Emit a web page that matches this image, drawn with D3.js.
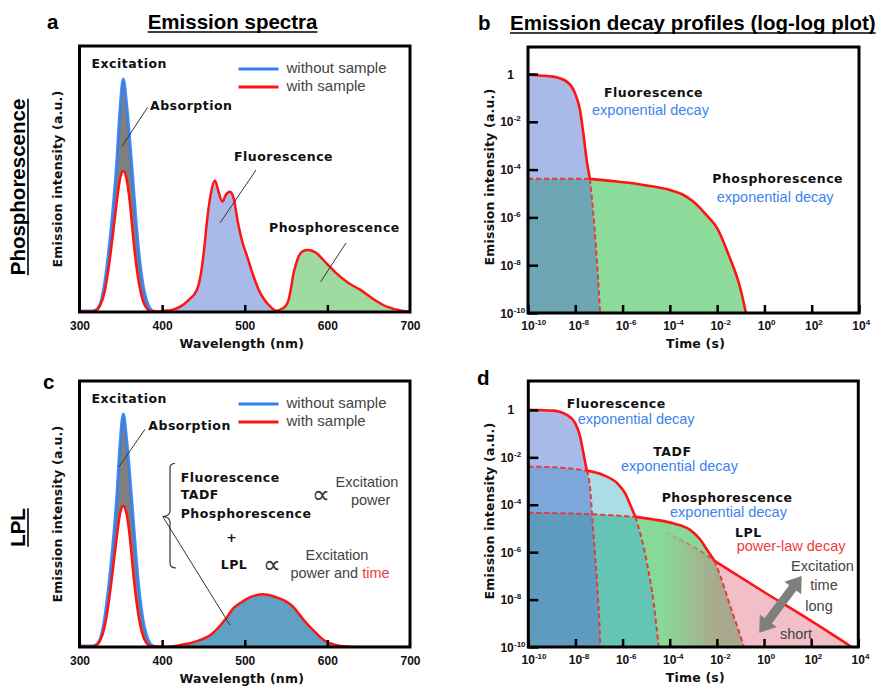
<!DOCTYPE html>
<html>
<head>
<meta charset="utf-8">
<script src="https://cdn.jsdelivr.net/npm/d3@7"></script>
<style>
body { margin: 0; background: #fff; }
.bl { font-family: "DejaVu Sans", Verdana, sans-serif; font-weight: bold; font-size: 12.5px; letter-spacing: 0.5px; fill: #111; }
.axt { font-family: "DejaVu Sans", Verdana, sans-serif; font-weight: bold; font-size: 12.5px; letter-spacing: 0.2px; fill: #111; }
.reg { font-family: "Liberation Sans", Arial, sans-serif; font-size: 14.5px; fill: #444; }
.leg { font-family: "Liberation Sans", Arial, sans-serif; font-size: 15px; fill: #444; }
.blue { fill: #3c83f0; }
.redt { fill: #f23c3c; }
.tk { font-family: "Liberation Sans", Arial, sans-serif; font-weight: bold; font-size: 12px; fill: #111; }
.sup { font-family: "Liberation Sans", Arial, sans-serif; font-weight: bold; font-size: 8px; fill: #111; }
.ttl { font-family: "Liberation Sans", Arial, sans-serif; font-weight: bold; font-size: 20.5px; fill: #000; }
.prop { font-family: "DejaVu Sans", sans-serif; font-size: 25px; fill: #333; }
</style>
</head>
<body>
<svg id="fig" width="881" height="687"></svg>
<script>
// ---- spectra (a, c): wavelength in nm, intensity as fraction of frame height ----
var wlTicks = [300, 400, 500, 600, 700];
var excWl      = [300, 315, 320, 325, 330, 335, 340, 345, 349, 353, 357, 361, 365, 369, 373, 377, 381, 385, 389, 395];
var excWithout = [0.004, 0.004, 0.008, 0.03, 0.1, 0.22, 0.37, 0.56, 0.76, 0.876, 0.78, 0.64, 0.48, 0.32, 0.19, 0.1, 0.045, 0.015, 0.004, 0.001];
var excWith    = [0.002, 0.002, 0.006, 0.025, 0.07, 0.16, 0.28, 0.41, 0.5, 0.53, 0.5, 0.41, 0.28, 0.17, 0.09, 0.04, 0.015, 0.005, 0.002, 0.002];

var fluorWl  = [400, 412, 422, 432, 442, 447, 451, 454, 459, 464, 468, 473, 477, 482, 486, 492, 497, 503, 510, 517, 524, 531, 538];
var fluorInt = [0.004, 0.008, 0.02, 0.045, 0.083, 0.145, 0.24, 0.333, 0.446, 0.494, 0.455, 0.415, 0.44, 0.452, 0.434, 0.333, 0.265, 0.208, 0.14, 0.083, 0.045, 0.02, 0.005];

var phosWl  = [538, 545, 550, 553, 556, 559, 562, 565, 570, 576, 585, 599, 611, 625, 640, 655, 672, 690, 700];
var phosInt = [0.005, 0.012, 0.025, 0.045, 0.09, 0.145, 0.18, 0.208, 0.228, 0.233, 0.225, 0.183, 0.145, 0.11, 0.083, 0.05, 0.02, 0.005, 0.002];

var lplWl  = [400, 414, 430, 445, 458, 470, 478, 486, 495, 503, 512, 523, 535, 547, 553, 559, 568, 576, 583, 591, 599, 610, 623, 640, 700];
var lplInt = [0.001, 0.003, 0.012, 0.025, 0.044, 0.08, 0.11, 0.145, 0.166, 0.182, 0.193, 0.198, 0.19, 0.176, 0.165, 0.15, 0.115, 0.085, 0.063, 0.038, 0.019, 0.008, 0.002, 0.0, 0.0];

// ---- decay profiles (b, d): [log10 time (s), log10 intensity] ----
var timeTicks = [-10, -8, -6, -4, -2, 0, 2, 4];
var intTicks  = [-10, -8, -6, -4, -2, 0];

var bFluorSolid = [[-10, -0.02], [-9.5, -0.06], [-8.93, -0.11], [-8.36, -0.32], [-8.01, -0.81], [-7.8, -1.51], [-7.66, -2.48], [-7.52, -3.6], [-7.38, -4.39]];
var bFluorTail  = [[-7.38, -4.39], [-7.25, -5.7], [-7.12, -7.3], [-6.95, -10]];
var bPhosHead   = [[-10, -4.38], [-8.5, -4.38], [-7.38, -4.39]];
var bPhosSolid  = [[-7.38, -4.39], [-6.5, -4.47], [-5.5, -4.58], [-4.7, -4.71], [-4.0, -4.85], [-3.5, -5.02], [-3.0, -5.35], [-2.5, -5.85], [-2.0, -6.45], [-1.5, -7.6], [-1.05, -8.85], [-0.78, -10]];

var dFluorSolid = [[-10, 0.0], [-9.5, -0.01], [-8.94, -0.03], [-8.37, -0.21], [-8.01, -0.56], [-7.8, -1.13], [-7.66, -1.83], [-7.52, -2.56]];
var dFluorTail  = [[-7.52, -2.56], [-7.37, -3.38], [-7.3, -4.36], [-7.16, -6.2], [-7.02, -8.31], [-6.94, -10]];
var dTadfHead   = [[-10, -2.39], [-8.94, -2.42], [-7.94, -2.5], [-7.52, -2.56]];
var dTadfSolid  = [[-7.52, -2.56], [-6.81, -2.75], [-6.24, -3.08], [-5.89, -3.52], [-5.67, -4.01], [-5.46, -4.51]];
var dTadfTail   = [[-5.46, -4.51], [-5.25, -5.21], [-4.96, -6.48], [-4.68, -8.16], [-4.47, -10]];
var dPhosHead   = [[-10, -4.34], [-7.52, -4.39], [-5.46, -4.51]];
var dPhosSolid  = [[-5.46, -4.51], [-4.68, -4.62], [-3.83, -4.79], [-3.12, -5.07], [-2.69, -5.49], [-2.41, -5.91], [-2.1, -6.37]];
var dPhosTail   = [[-2.1, -6.37], [-1.84, -7.04], [-1.42, -8.31], [-1.13, -9.15], [-0.85, -10]];
var dLplHead    = [[-4.5, -5.0], [-3.5, -5.5], [-2.7, -5.95], [-2.1, -6.37]];
var dLplSolid   = [[-2.1, -6.37], [0, -7.68], [2, -8.9], [3.72, -10]];

var RED = "#ff1414", DASH = "#e8383d", LINEBLUE = "#2f7ff2";
var svg = d3.select("#fig");
var defs = svg.append("defs");

function join(a, b) { return a.concat(b.slice(1)); }

function txt(g, x, y, s, cls, anchor) {
  return g.append("text").attr("x", x).attr("y", y).attr("class", cls)
    .attr("text-anchor", anchor || "start").text(s);
}

function underlined(x, y, s, cls, rot) {
  var g = svg.append("g").attr("transform", "translate(" + x + "," + y + ")" + (rot ? " rotate(-90)" : ""));
  var t = g.append("text").attr("class", cls).attr("text-anchor", rot ? "middle" : "start").text(s);
  var len = t.node().getComputedTextLength();
  var x0 = rot ? -len / 2 : 0;
  g.append("line").attr("x1", x0).attr("x2", x0 + len).attr("y1", 3).attr("y2", 3)
    .attr("stroke", "#000").attr("stroke-width", 1.6);
}

function frame(g, box) {
  g.append("rect").attr("x", box.x0).attr("y", box.y0).attr("width", box.x1 - box.x0)
    .attr("height", box.y1 - box.y0).attr("fill", "none").attr("stroke", "#000").attr("stroke-width", 3);
}

// ---------------- spectrum panels ----------------
function spectrumPanel(id, box, emissions) {
  var g = svg.append("g");
  var x = d3.scaleLinear().domain([300, 700]).range([box.x0, box.x1]);
  var y = d3.scaleLinear().domain([0, 1]).range([box.y1, box.y0]);
  defs.append("clipPath").attr("id", id + "box").append("rect")
    .attr("x", box.x0).attr("y", box.y0).attr("width", box.x1 - box.x0).attr("height", box.y1 - box.y0);
  var plot = g.append("g").attr("clip-path", "url(#" + id + "box)");
  var line = d3.line().x(d => x(d[0])).y(d => y(d[1])).curve(d3.curveMonotoneX);
  var area = d3.area().x(d => x(d[0])).y0(y(0)).y1(d => y(d[1])).curve(d3.curveMonotoneX);

  emissions.forEach(function (e) {
    plot.append("path").attr("d", area(d3.zip(e.wl, e.val))).attr("fill", e.fill);
  });
  var absArea = d3.area().x(d => x(d[0])).y0(d => y(d[1])).y1(d => y(d[2])).curve(d3.curveMonotoneX);
  plot.append("path").attr("d", absArea(d3.zip(excWl, excWith, excWithout))).attr("fill", "#7f7f7f");

  plot.append("path").attr("d", line(d3.zip(excWl, excWithout))).attr("fill", "none")
    .attr("stroke", LINEBLUE).attr("stroke-width", 3).attr("stroke-opacity", 0.9);
  var red = d3.zip(excWl, excWith);
  emissions.forEach(function (e) {
    d3.zip(e.wl, e.val).forEach(function (p) { if (p[0] > red[red.length - 1][0]) red.push(p); });
  });
  plot.append("path").attr("d", line(red)).attr("fill", "none").attr("stroke", RED).attr("stroke-width", 2.5);

  var ax = g.append("g").attr("transform", "translate(0," + box.y1 + ")")
    .call(d3.axisBottom(x).tickValues(wlTicks).tickSize(-7).tickPadding(9));
  ax.select(".domain").remove();
  ax.selectAll(".tick line").attr("stroke", "#000").attr("stroke-width", 2.5)
    .attr("display", d => (d === 300 || d === 700) ? "none" : null);
  ax.selectAll(".tick text").attr("class", "tk").attr("font-family", null).attr("font-size", null);
  frame(g, box);

  txt(g, (box.x0 + box.x1) / 2 - 3, box.y1 + 36, "Wavelength (nm)", "axt", "middle");
  g.append("text").attr("class", "axt").attr("text-anchor", "middle")
    .attr("transform", "translate(62," + (box.y0 + box.y1) / 2 + ") rotate(-90)")
    .text("Emission intensity (a.u.)");

  // legend
  var ly = box.y0 + 23;
  [["without sample", LINEBLUE], ["with sample", RED]].forEach(function (it, i) {
    g.append("line").attr("x1", box.x0 + 159).attr("x2", box.x0 + 199)
      .attr("y1", ly + i * 18).attr("y2", ly + i * 18).attr("stroke", it[1]).attr("stroke-width", 3);
    txt(g, box.x0 + 207, ly + i * 18 + 4, it[0], "leg");
  });
  txt(g, box.x0 + 12, box.y0 + 22, "Excitation", "bl");
  return {g: g, x: x, y: y};
}

var pa = spectrumPanel("a", {x0: 79.5, x1: 410, y0: 46, y1: 312}, [
  {wl: fluorWl, val: fluorInt, fill: "#a9b9e8"},
  {wl: phosWl, val: phosInt, fill: "#9fdaa0"}
]);
var ga = pa.g;
txt(ga, 150, 109.5, "Absorption", "bl");
txt(ga, 234, 161, "Fluorescence", "bl");
txt(ga, 269, 232, "Phosphorescence", "bl");
[[147.7, 107.3, 121.7, 146.7], [256, 170, 220, 223], [346, 243, 320.7, 281.7]].forEach(function (l) {
  ga.append("line").attr("x1", l[0]).attr("y1", l[1]).attr("x2", l[2]).attr("y2", l[3])
    .attr("stroke", "#333").attr("stroke-width", 1);
});

var pc = spectrumPanel("c", {x0: 79.5, x1: 410, y0: 381, y1: 647}, [
  {wl: lplWl, val: lplInt, fill: "#5fa0c3"}
]);
var gc = pc.g;
txt(gc, 148.3, 429.5, "Absorption", "bl");
gc.append("line").attr("x1", 145).attr("y1", 429.3).attr("x2", 119).attr("y2", 466.7)
  .attr("stroke", "#333").attr("stroke-width", 1);
gc.append("path").attr("d", "M175,463.5 Q170,463.5 170,468 L170,511 Q170,516 162.5,516.5 Q170,517 170,522 L170,563 Q170,568 176,568")
  .attr("fill", "none").attr("stroke", "#333").attr("stroke-width", 1.2);
gc.append("line").attr("x1", 163).attr("y1", 517).attr("x2", 230).attr("y2", 625)
  .attr("stroke", "#333").attr("stroke-width", 1);
txt(gc, 180.7, 481.7, "Fluorescence", "bl");
txt(gc, 180.7, 499.3, "TADF", "bl");
txt(gc, 180.7, 518.3, "Phosphorescence", "bl");
txt(gc, 231.7, 541.5, "+", "bl", "middle");
txt(gc, 220.7, 569.3, "LPL", "bl");
txt(gc, 312, 502.5, "\u221D", "prop");
txt(gc, 263, 573, "\u221D", "prop");
txt(gc, 367, 486.7, "Excitation", "reg", "middle");
txt(gc, 370.7, 505, "power", "reg", "middle");
txt(gc, 337, 560, "Excitation", "reg", "middle");
var pt = txt(gc, 340, 578.3, "power and ", "reg", "middle");
pt.append("tspan").attr("class", "redt").text("time");

// ---------------- decay panels ----------------
function decayPanel(id, box, yTopExp) {
  var g = svg.append("g");
  var x = d3.scaleLog().domain([1e-10, 1e4]).range([box.x0, box.x1]);
  var y = d3.scaleLog().domain([1e-10, Math.pow(10, yTopExp)]).range([box.y1, box.y0]);
  var px = d => x(Math.pow(10, d[0])), py = d => y(Math.pow(10, d[1]));
  defs.append("clipPath").attr("id", id + "box").append("rect")
    .attr("x", box.x0).attr("y", box.y0).attr("width", box.x1 - box.x0).attr("height", box.y1 - box.y0);
  var plot = g.append("g").attr("clip-path", "url(#" + id + "box)");
  var P = {
    g: g, plot: plot, x: x, y: y, box: box, px: px, py: py,
    line: d3.line().x(px).y(py).curve(d3.curveMonotoneX),
    area: d3.area().x(px).y0(box.y1).y1(py).curve(d3.curveMonotoneX)
  };
  P.fill = function (pts, color, clip) {
    var p = plot.append("path").attr("d", P.area(pts)).attr("fill", color);
    if (clip) p.attr("clip-path", "url(#" + clip + ")");
    return p;
  };
  P.clip = function (cid, pts) {
    defs.append("clipPath").attr("id", cid).append("path").attr("d", P.area(pts));
  };
  P.solid = function (pts) {
    plot.append("path").attr("d", P.line(pts)).attr("fill", "none").attr("stroke", RED).attr("stroke-width", 2.6);
  };
  P.dashed = function (pts, stroke) {
    plot.append("path").attr("d", P.line(pts)).attr("fill", "none").attr("stroke", stroke || DASH)
      .attr("stroke-width", 2).attr("stroke-dasharray", "5,3");
  };
  P.axes = function () {
    var tv = timeTicks.map(e => Math.pow(10, e)), iv = intTicks.map(e => Math.pow(10, e));
    var ax = g.append("g").attr("transform", "translate(0," + box.y1 + ")")
      .call(d3.axisBottom(x).tickValues(tv).tickSize(-8).tickFormat(""));
    var ay = g.append("g").attr("transform", "translate(" + box.x0 + ",0)")
      .call(d3.axisLeft(y).tickValues(iv).tickSize(-10).tickFormat(""));
    [ax, ay].forEach(function (a) {
      a.select(".domain").remove();
      a.selectAll(".tick line").attr("stroke", "#000").attr("stroke-width", 2.5);
    });
    timeTicks.forEach(function (e) {
      var t = g.append("text").attr("class", "tk").attr("x", x(Math.pow(10, e)) - 6.7).attr("y", box.y1 + 17).text("10");
      t.append("tspan").attr("class", "sup").attr("dy", -5).text(e < 0 ? "-" + Math.abs(e) : String(e));
    });
    intTicks.forEach(function (e) {
      var yy = y(Math.pow(10, e)) + 4.5;
      if (e === 0) { txt(g, box.x0 - 14, yy, "1", "tk", "end"); return; }
      txt(g, box.x0 - 14.5, yy, "10", "tk", "end");
      txt(g, box.x0 - 14.3, yy - 5, "-" + Math.abs(e), "sup");
    });
    frame(g, box);
    txt(g, (box.x0 + box.x1) / 2 + 2, box.y1 + 35, "Time (s)", "axt", "middle");
    g.append("text").attr("class", "axt").attr("text-anchor", "middle")
      .attr("transform", "translate(494," + ((box.y0 + box.y1) / 2 - 3) + ") rotate(-90)")
      .text("Emission intensity (a.u.)");
  };
  return P;
}

// panel b
var pb = decayPanel("b", {x0: 528, x1: 859, y0: 47, y1: 313}, 1.13);
var bF = join(bFluorSolid, bFluorTail), bP = join(bPhosHead, bPhosSolid);
pb.clip("bclipP", bP);
pb.fill(bF, "#a9b9e8");
pb.fill(bP, "#8cdb9b");
pb.fill(bF, "#6fa6b4", "bclipP");
pb.dashed(bPhosHead);
pb.dashed(bFluorTail);
pb.solid(bFluorSolid);
pb.solid(bPhosSolid);
pb.axes();
txt(pb.g, 604, 97, "Fluorescence", "bl");
txt(pb.g, 592, 115, "exponential decay", "reg blue");
txt(pb.g, 712.3, 182.5, "Phosphorescence", "bl");
txt(pb.g, 716.7, 202, "exponential decay", "reg blue");

// panel d
var pd = decayPanel("d", {x0: 528.3, x1: 858.3, y0: 381, y1: 647}, 1.22);
var dF = join(dFluorSolid, dFluorTail);
var dT = join(join(dTadfHead, dTadfSolid), dTadfTail);
var dP = join(join(dPhosHead, dPhosSolid), dPhosTail);
var dL = join(dLplHead, dLplSolid);
pd.clip("dclipP", dP);
pd.clip("dclipT", dT);
var fade = defs.append("linearGradient").attr("id", "lplFade").attr("gradientUnits", "userSpaceOnUse")
  .attr("x1", pd.x(Math.pow(10, -4.3))).attr("x2", pd.x(Math.pow(10, -2.0))).attr("y1", 0).attr("y2", 0);
fade.append("stop").attr("offset", 0).attr("stop-color", "#aaa88c").attr("stop-opacity", 0);
fade.append("stop").attr("offset", 1).attr("stop-color", "#aaa88c").attr("stop-opacity", 1);
var dashFade = defs.append("linearGradient").attr("id", "lplDash").attr("gradientUnits", "userSpaceOnUse")
  .attr("x1", pd.x(Math.pow(10, -4.6))).attr("x2", pd.x(Math.pow(10, -2.1))).attr("y1", 0).attr("y2", 0);
dashFade.append("stop").attr("offset", 0).attr("stop-color", DASH).attr("stop-opacity", 0);
dashFade.append("stop").attr("offset", 1).attr("stop-color", DASH).attr("stop-opacity", 0.75);

pd.fill(dL, "#f2bfc8");
pd.fill(dP, "#88d999");
pd.fill(dL, "url(#lplFade)", "dclipP");
pd.fill(dT, "#aadde7");
pd.fill(dT, "#65c5b4", "dclipP");
pd.fill(dF, "#a9b9e8");
pd.fill(dF, "#7da6da", "dclipT");
pd.fill(dF, "#5e9bbe", "dclipP");
pd.dashed(dLplHead, "url(#lplDash)");
pd.dashed(dTadfHead);
pd.dashed(dPhosHead);
pd.dashed(dFluorTail);
pd.dashed(dTadfTail);
pd.dashed(dPhosTail);
pd.solid(dFluorSolid);
pd.solid(dTadfSolid);
pd.solid(dPhosSolid);
pd.solid(dLplSolid);

// double arrow for excitation time
(function () {
  var p1 = [pd.x(Math.pow(10, -0.2)), pd.y(Math.pow(10, -9.4))];
  var p2 = [pd.x(Math.pow(10, 1.6)), pd.y(Math.pow(10, -7.0))];
  var dx = p2[0] - p1[0], dy = p2[1] - p1[1], L = Math.hypot(dx, dy);
  var ang = Math.atan2(dy, dx) * 180 / Math.PI;
  var hw = 4.5, hl = 15, hh = 10.5;
  var pts = [[0, 0], [hl, -hh], [hl, -hw], [L - hl, -hw], [L - hl, -hh], [L, 0], [L - hl, hh], [L - hl, hw], [hl, hw], [hl, hh]];
  pd.g.append("polygon").attr("points", pts.map(p => p.join(",")).join(" "))
    .attr("transform", "translate(" + p1[0] + "," + p1[1] + ") rotate(" + ang + ")").attr("fill", "#7f7f7f");
})();
pd.axes();
var gd = pd.g;
txt(gd, 566.7, 408, "Fluorescence", "bl");
txt(gd, 577.7, 423.5, "exponential decay", "reg blue");
txt(gd, 653.3, 455.5, "TADF", "bl");
txt(gd, 621, 471, "exponential decay", "reg blue");
txt(gd, 661.7, 502, "Phosphorescence", "bl");
txt(gd, 670, 516.5, "exponential decay", "reg blue");
txt(gd, 735, 536.5, "LPL", "bl");
txt(gd, 736.7, 551, "power-law decay", "reg redt");
txt(gd, 822.5, 571, "Excitation", "reg", "middle");
txt(gd, 824, 590, "time", "reg", "middle");
txt(gd, 819, 611, "long", "reg", "middle");
txt(gd, 796, 639, "short", "reg", "middle");

// titles and row labels
txt(svg, 47, 29, "a", "ttl");
underlined(147.7, 29, "Emission spectra", "ttl");
txt(svg, 478, 30, "b", "ttl");
underlined(510, 30, "Emission decay profiles (log-log plot)", "ttl");
txt(svg, 43, 389, "c", "ttl");
txt(svg, 477, 385, "d", "ttl");
underlined(25, 187, "Phosphorescence", "ttl", true);
underlined(25, 527.5, "LPL", "ttl", true);
</script>
</body>
</html>
